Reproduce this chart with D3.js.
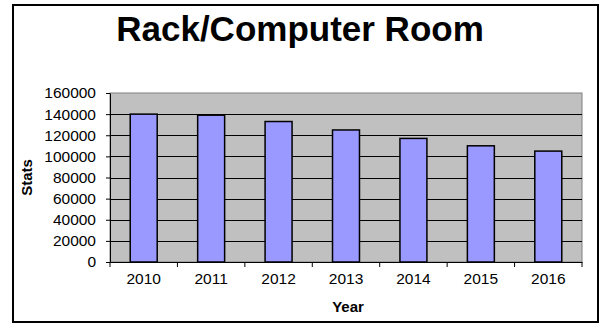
<!DOCTYPE html>
<html>
<head>
<meta charset="utf-8">
<script src="https://cdn.jsdelivr.net/npm/d3@7"></script>
<style>
  html, body { margin: 0; padding: 0; background: #fff; }
  svg { display: block; font-family: Arial, "Liberation Sans", sans-serif; }
</style>
</head>
<body>
<svg id="chart" width="600" height="324"></svg>
<script>
// Yearly stats for the rack / computer room
const years = ["2010", "2011", "2012", "2013", "2014", "2015", "2016"];
const stats = [140000, 139000, 133000, 125000, 117000, 110000, 105000];
const yTicks = [0, 20000, 40000, 60000, 80000, 100000, 120000, 140000, 160000];

const svg = d3.select("#chart");
const plot = { left: 110, right: 582, top: 93, bottom: 262 };

// outer frame
svg.append("rect")
  .attr("x", 13).attr("y", 5)
  .attr("width", 585).attr("height", 317)
  .attr("fill", "#fff").attr("stroke", "#000").attr("stroke-width", 2);

// title
svg.append("text")
  .attr("x", 300).attr("y", 41)
  .attr("text-anchor", "middle")
  .attr("font-size", 35).attr("font-weight", "bold")
  .text("Rack/Computer Room");

const x = d3.scaleBand().domain(years).range([plot.left, plot.right]).padding(0);
const y = d3.scaleLinear().domain([0, 160000]).range([plot.bottom, plot.top]);

// plot background
svg.append("rect")
  .attr("x", plot.left).attr("y", plot.top)
  .attr("width", plot.right - plot.left).attr("height", plot.bottom - plot.top)
  .attr("fill", "#c0c0c0").attr("stroke", "#808080").attr("stroke-width", 1);

// horizontal gridlines
svg.append("g").selectAll("line")
  .data(yTicks.filter(t => t > 0 && t < 160000))
  .join("line")
  .attr("x1", plot.left).attr("x2", plot.right)
  .attr("y1", d => Math.round(y(d)) + 0.5).attr("y2", d => Math.round(y(d)) + 0.5)
  .attr("stroke", "#000").attr("stroke-width", 1);

// bars
const barW = x.bandwidth() * 0.4;
svg.append("g").selectAll("rect")
  .data(years.map((yr, i) => ({ yr, v: stats[i] })))
  .join("rect")
  .attr("x", d => x(d.yr) + (x.bandwidth() - barW) / 2)
  .attr("y", d => y(d.v))
  .attr("width", barW)
  .attr("height", d => y(0) - y(d.v))
  .attr("fill", "#9999ff").attr("stroke", "#000").attr("stroke-width", 1.5);

// y axis
const yAxis = svg.append("g")
  .attr("transform", `translate(${plot.left},0)`)
  .call(d3.axisLeft(y).tickValues(yTicks).tickSize(4).tickSizeOuter(0).tickPadding(10).tickFormat(d3.format("d")));
yAxis.selectAll("text").attr("font-size", 15.5).attr("fill", "#000").attr("font-family", "Arial, 'Liberation Sans', sans-serif");
yAxis.selectAll("line, path").attr("stroke", "#000");

// x axis with ticks on category boundaries
const xAxis = svg.append("g")
  .attr("transform", `translate(0,${plot.bottom})`)
  .call(d3.axisBottom(x).tickSize(0).tickSizeOuter(0).tickPadding(11));
xAxis.selectAll("text").attr("font-size", 15.5).attr("fill", "#000").attr("font-family", "Arial, 'Liberation Sans', sans-serif");
xAxis.select("path").attr("stroke", "#000");
xAxis.append("g").selectAll("line")
  .data(years.map(yr => x(yr)).concat([plot.right]))
  .join("line")
  .attr("x1", d => d).attr("x2", d => d)
  .attr("y1", 0).attr("y2", 5)
  .attr("stroke", "#000");

// axis titles
svg.append("text")
  .attr("x", (plot.left + plot.right) / 2 + 2).attr("y", 312)
  .attr("text-anchor", "middle")
  .attr("font-size", 15).attr("font-weight", "bold")
  .text("Year");

svg.append("text")
  .attr("transform", `translate(32,${(plot.top + plot.bottom) / 2}) rotate(-90)`)
  .attr("text-anchor", "middle")
  .attr("font-size", 15).attr("font-weight", "bold")
  .text("Stats");
</script>
</body>
</html>
